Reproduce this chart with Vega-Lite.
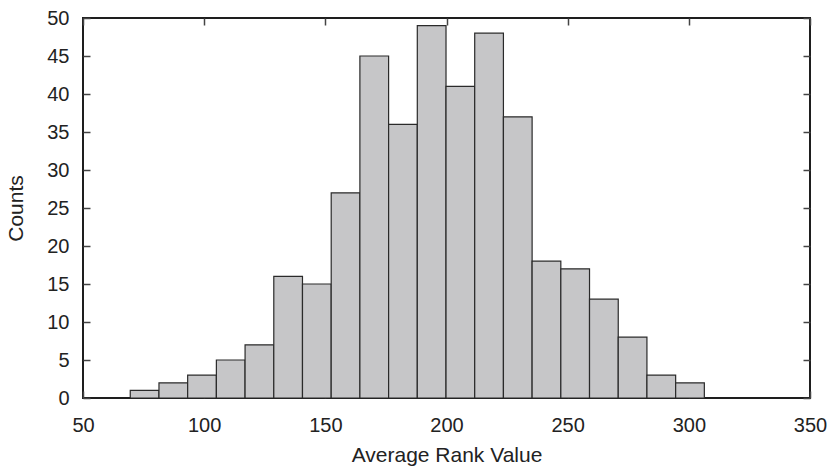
{
  "$schema": "https://vega.github.io/schema/vega-lite/v6.json",
  "width": 727,
  "height": 380,
  "autosize": {"type": "none"},
  "padding": {"left": 83, "top": 18, "right": 19, "bottom": 68},
  "background": "white",
  "config": {
    "font": "Liberation Sans",
    "view": {"stroke": "#1e1e1e", "strokeWidth": 2},
    "axis": {
      "domain": false,
      "grid": false,
      "tickSize": -7,
      "tickWidth": 1.5,
      "tickColor": "#444444",
      "labelFlush": false,
      "labelFont": "Liberation Sans",
      "labelFontSize": 20,
      "labelColor": "#222222",
      "titleFont": "Liberation Sans",
      "titleFontSize": 21,
      "titleFontWeight": "normal",
      "titleColor": "#222222"
    }
  },
  "data": {
    "values": [
      {"bin_start": 69.5, "bin_end": 81.35, "count": 1},
      {"bin_start": 81.35, "bin_end": 93.19, "count": 2},
      {"bin_start": 93.19, "bin_end": 105.04, "count": 3},
      {"bin_start": 105.04, "bin_end": 116.88, "count": 5},
      {"bin_start": 116.88, "bin_end": 128.73, "count": 7},
      {"bin_start": 128.73, "bin_end": 140.57, "count": 16},
      {"bin_start": 140.57, "bin_end": 152.42, "count": 15},
      {"bin_start": 152.42, "bin_end": 164.26, "count": 27},
      {"bin_start": 164.26, "bin_end": 176.11, "count": 45},
      {"bin_start": 176.11, "bin_end": 187.95, "count": 36},
      {"bin_start": 187.95, "bin_end": 199.8, "count": 49},
      {"bin_start": 199.8, "bin_end": 211.64, "count": 41},
      {"bin_start": 211.64, "bin_end": 223.49, "count": 48},
      {"bin_start": 223.49, "bin_end": 235.33, "count": 37},
      {"bin_start": 235.33, "bin_end": 247.18, "count": 18},
      {"bin_start": 247.18, "bin_end": 259.02, "count": 17},
      {"bin_start": 259.02, "bin_end": 270.87, "count": 13},
      {"bin_start": 270.87, "bin_end": 282.71, "count": 8},
      {"bin_start": 282.71, "bin_end": 294.56, "count": 3},
      {"bin_start": 294.56, "bin_end": 306.4, "count": 2}
    ]
  },
  "layer": [
    {
      "mark": {"type": "bar", "fill": "#c6c6c8", "stroke": "#2a2a2a", "strokeWidth": 1.2},
      "encoding": {
        "x": {
          "field": "bin_start",
          "type": "quantitative",
          "scale": {"domain": [50, 350], "nice": false, "zero": false},
          "axis": {
            "orient": "bottom",
            "values": [50, 100, 150, 200, 250, 300, 350],
            "labelPadding": 24,
            "title": "Average Rank Value",
            "titlePadding": 9
          }
        },
        "x2": {"field": "bin_end"},
        "y": {
          "field": "count",
          "type": "quantitative",
          "scale": {"domain": [0, 50], "nice": false},
          "axis": {
            "orient": "left",
            "values": [0, 5, 10, 15, 20, 25, 30, 35, 40, 45, 50],
            "labelPadding": 21,
            "title": "Counts",
            "titlePadding": 20
          }
        },
        "y2": {"datum": 0}
      }
    },
    {
      "mark": {"type": "point", "opacity": 0},
      "encoding": {
        "x": {
          "field": "bin_start",
          "type": "quantitative",
          "axis": {"orient": "top", "values": [50, 100, 150, 200, 250, 300, 350], "labels": false, "title": null}
        },
        "y": {
          "field": "count",
          "type": "quantitative",
          "axis": {"orient": "right", "values": [0, 5, 10, 15, 20, 25, 30, 35, 40, 45, 50], "labels": false, "title": null}
        }
      }
    }
  ],
  "resolve": {"axis": {"x": "independent", "y": "independent"}}
}
